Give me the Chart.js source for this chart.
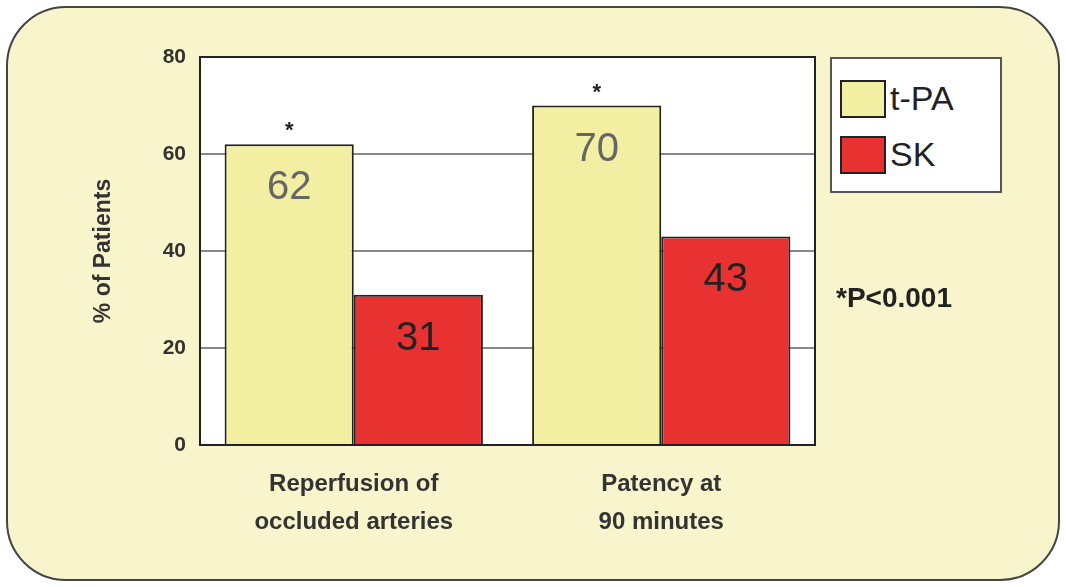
<!DOCTYPE html>
<html>
<head>
<script src="https://cdn.jsdelivr.net/npm/chart.js@4"></script>
<style>
  body { margin: 0; background: #fff; }
  #frame { position: absolute; left: 6px; top: 6px; width: 1050px; height: 571px;
    background: #f8f4cc; border: 2px solid #444; border-radius: 60px; }
  #wrap { position: absolute; left: 0; top: 0; width: 1066px; height: 587px; }
  #legend { position: absolute; left: 830px; top: 57px; width: 168px; height: 132px;
    background: #fff; border: 2px solid #555; font: 34px "Liberation Sans", Arial, sans-serif; color: #222; }
  .item { position: absolute; left: 8px; display: flex; align-items: center; }
  .sw { width: 42px; height: 34px; border: 2px solid #222; margin-right: 4px; }
  #pval { position: absolute; left: 836px; top: 282px; font: bold 28px "Liberation Sans", Arial, sans-serif; color: #222; }
</style>
</head>
<body>
<div id="frame"></div>
<div id="wrap"><canvas id="c" width="1066" height="587"></canvas></div>
<div id="legend">
  <div class="item" style="top:20px"><div class="sw" style="background:#f2efa2"></div>t-PA</div>
  <div class="item" style="top:76px"><div class="sw" style="background:#e83232"></div>SK</div>
</div>
<div id="pval">*P&lt;0.001</div>
<script>
// ===========================
// Dados
// ===========================
const categories = [["Reperfusion of", "occluded arteries"], ["Patency at", "90 minutes"]];
const tpaValues = [62, 70];
const skValues = [31, 43];
const yTicks = [0, 20, 40, 60, 80];

const labelFont = '"Liberation Sans", Arial, sans-serif';

// rótulos dentro das barras + asteriscos + moldura
const barLabels = {
  id: "barLabels",
  afterDatasetsDraw(chart) {
    const ctx = chart.ctx;
    ctx.save();
    ctx.textAlign = "center";
    chart.data.datasets.forEach((ds, i) => {
      chart.getDatasetMeta(i).data.forEach((bar, j) => {
        ctx.fillStyle = i === 0 ? "#666" : "#222";
        ctx.font = "40px " + labelFont;
        ctx.textBaseline = "top";
        ctx.fillText(ds.data[j], bar.x, bar.y + 24);
        if (i === 0) {
          ctx.fillStyle = "#222";
          ctx.font = "bold 22px " + labelFont;
          ctx.textBaseline = "bottom";
          ctx.fillText("*", bar.x, bar.y - 2);
        }
      });
    });
    const a = chart.chartArea;
    ctx.strokeStyle = "#222";
    ctx.lineWidth = 2;
    ctx.strokeRect(a.left, a.top, a.right - a.left, a.bottom - a.top);
    ctx.restore();
  }
};

const whiteBg = {
  id: "whiteBg",
  beforeDraw(chart) {
    const a = chart.chartArea;
    chart.ctx.fillStyle = "#fff";
    chart.ctx.fillRect(a.left, a.top, a.right - a.left, a.bottom - a.top);
  }
};

new Chart(document.getElementById("c"), {
  type: "bar",
  data: {
    labels: categories,
    datasets: [
      { label: "t-PA", data: tpaValues, backgroundColor: "#f2efa2", borderColor: "#222", borderWidth: 2 },
      { label: "SK", data: skValues, backgroundColor: "#e83232", borderColor: "#222", borderWidth: 2 }
    ]
  },
  options: {
    responsive: false,
    animation: false,
    layout: { padding: { left: 86, right: 251, top: 57, bottom: 42 } },
    plugins: { legend: { display: false }, tooltip: { enabled: false } },
    datasets: { bar: { categoryPercentage: 0.84, barPercentage: 1 } },
    scales: {
      x: {
        grid: { display: false },
        border: { color: "#222", width: 2 },
        ticks: { color: "#333", font: { family: labelFont, size: 24, weight: "bold", lineHeight: 1.6 }, padding: 12 },
        afterFit: s => { s.height = 100; }
      },
      y: {
        min: 0, max: 80,
        afterBuildTicks: s => { s.ticks = yTicks.map(v => ({ value: v })); },
        grid: { color: "#888", lineWidth: 2, drawTicks: false },
        border: { color: "#222", width: 2 },
        ticks: { color: "#333", font: { family: labelFont, size: 21, weight: "bold" }, padding: 14 },
        title: { display: true, text: "% of Patients", color: "#333", font: { family: labelFont, size: 23, weight: "bold" } },
        afterFit: s => { s.width = 114; }
      }
    }
  },
  plugins: [whiteBg, barLabels]
});
</script>
</body>
</html>
